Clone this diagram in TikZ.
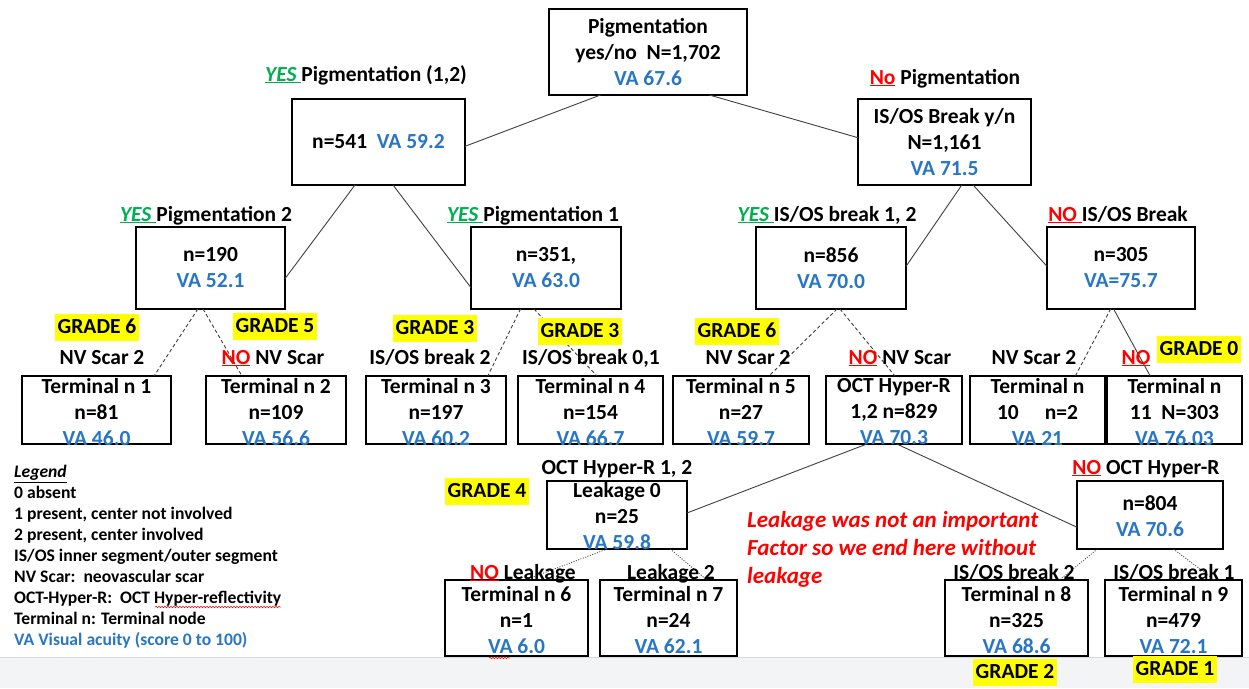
\documentclass[tikz,border=0pt]{standalone}
\usepackage{fontspec}
\setmainfont{Carlito}
\usetikzlibrary{calc,decorations.pathmorphing}
\definecolor{vablue}{RGB}{40,118,196}
\definecolor{yesgreen}{RGB}{0,176,80}
\definecolor{nored}{RGB}{255,0,0}
\definecolor{hl}{RGB}{255,255,0}
\definecolor{band}{RGB}{243,244,246}
\newcommand\va[1]{\textcolor{vablue}{#1}}
\newcommand\yesmark{\textcolor{yesgreen}{\underline{\itshape YES\ }}}
\newcommand\nomark[1]{\textcolor{nored}{\underline{#1}}}
\newcommand\mainsz{\fontsize{21.5}{26}\selectfont}
\begin{document}
\begin{tikzpicture}[x=1pt,y=-1pt,
  box/.style={draw=black, line width=2.8pt, inner sep=0pt, outer sep=0pt},
  btxt/.style={font=\bfseries\mainsz, align=center, inner sep=0pt},
  lab/.style={font=\bfseries\mainsz, inner sep=0pt, anchor=base},
  grade/.style={font=\bfseries\mainsz, fill=hl, inner xsep=3pt, inner ysep=2pt, text height=17pt, text depth=6pt, anchor=base},
  conn/.style={draw=black!75, line width=0.9pt},
  dsh/.style={conn, dash pattern=on 3.5pt off 2.5pt},
  dot/.style={conn, line width=0.8pt, dash pattern=on 1pt off 1.5pt},
  legend/.style={font=\bfseries\fontsize{17.6}{21}\selectfont, align=left, inner sep=0pt},
  note/.style={font=\bfseries\itshape\fontsize{23}{28}\selectfont, text=nored, align=left, inner sep=0pt},
  squig/.style={draw=nored, line width=0.5pt, decorate, decoration={snake, amplitude=0.8pt, segment length=3pt}}
]
\useasboundingbox (0,0) rectangle (1249,688);
\fill[white] (0,0) rectangle (1249,688);
\fill[band] (0,657) rectangle (1249,688);
\draw[black!15, line width=0.8pt] (0,657) -- (1249,657);

% ---------- boxes ----------
\node[box, minimum width=198pt, minimum height=86pt] (root) at (648,52) {};
\node[box, minimum width=173pt, minimum height=86pt] (p12) at (378.5,142) {};
\node[box, minimum width=173pt, minimum height=86pt] (isos) at (944.5,142) {};
\node[box, minimum width=149pt, minimum height=82pt] (p2) at (210.5,268) {};
\node[box, minimum width=150pt, minimum height=82pt] (p1) at (546,268) {};
\node[box, minimum width=150pt, minimum height=82pt] (b12) at (831,268) {};
\node[box, minimum width=148pt, minimum height=82pt] (b0) at (1121,268) {};
\node[box, minimum width=149pt, minimum height=68pt] (t1) at (96.5,410) {};
\node[box, minimum width=140pt, minimum height=68pt] (t2) at (276,410) {};
\node[box, minimum width=140pt, minimum height=68pt] (t3) at (436,410) {};
\node[box, minimum width=145pt, minimum height=68pt] (t4) at (590.5,410) {};
\node[box, minimum width=136pt, minimum height=68pt] (t5) at (741,410) {};
\node[box, minimum width=136pt, minimum height=68pt] (oct) at (894,410) {};
\node[box, minimum width=135pt, minimum height=68pt] (t10) at (1037.5,410) {};
\node[box, minimum width=135pt, minimum height=68pt] (t11) at (1174.5,410) {};
\node[box, minimum width=140pt, minimum height=68pt] (leak) at (617,515) {};
\node[box, minimum width=146pt, minimum height=68pt] (n804) at (1150,515) {};
\node[box, minimum width=143pt, minimum height=76pt] (t6) at (516.5,618) {};
\node[box, minimum width=137pt, minimum height=76pt] (t7) at (668.5,618) {};
\node[box, minimum width=143pt, minimum height=76pt] (t8) at (1016.5,618) {};
\node[box, minimum width=137pt, minimum height=76pt] (t9) at (1173.5,618) {};

% ---------- connectors ----------
\draw[conn] ($(root.south west)!0.26!(root.south east)$) -- ($(p12.north east)!0.55!(p12.south east)$);
\draw[conn] ($(root.south west)!0.81!(root.south east)$) -- ($(isos.north west)!0.45!(isos.south west)$);
\draw[conn] ($(p12.south west)!0.364!(p12.south east)$) -- ($(p2.north east)!0.63!(p2.south east)$);
\draw[conn] ($(p12.south west)!0.584!(p12.south east)$) -- ($(p1.north west)!0.74!(p1.south west)$);
\draw[conn] ($(isos.south west)!0.60!(isos.south east)$) -- ($(b12.north east)!0.48!(b12.south east)$);
\draw[conn] ($(isos.south west)!0.665!(isos.south east)$) -- ($(b0.north west)!0.48!(b0.south west)$);

\draw[dsh] ($(p2.south west)!0.415!(p2.south east)$) -- ($(t1.north west)!0.886!(t1.north east)$);
\draw[dsh] ($(p2.south west)!0.45!(p2.south east)$) -- ($(t2.north west)!0.257!(t2.north east)$);
\draw[dsh] ($(p1.south west)!0.33!(p1.south east)$) -- ($(t3.north west)!0.87!(t3.north east)$);
\draw[dsh] ($(p1.south west)!0.42!(p1.south east)$) -- ($(t4.north west)!0.545!(t4.north east)$);
\draw[dsh] ($(b12.south west)!0.54!(b12.south east)$) -- ($(t5.north west)!0.706!(t5.north east)$);
\draw[dsh] ($(b12.south west)!0.56!(b12.south east)$) -- ($(oct.north west)!0.507!(oct.north east)$);
\draw[dsh] ($(b0.south west)!0.43!(b0.south east)$) -- ($(t10.north west)!0.78!(t10.north east)$);
\draw[conn] ($(b0.south west)!0.45!(b0.south east)$) -- ($(t11.north west)!0.32!(t11.north east)$);

\draw[conn] ($(oct.south west)!0.30!(oct.south east)$) -- ($(leak.north east)!0.47!(leak.south east)$);
\draw[conn] ($(oct.south west)!0.52!(oct.south east)$) -- ($(n804.north west)!0.68!(n804.south west)$);

\draw[dot] ($(leak.south west)!0.43!(leak.south east)$) -- ($(t6.north west)!0.56!(t6.north east)$);
\draw[dot] ($(leak.south west)!0.88!(leak.south east)$) -- ($(t7.north west)!0.78!(t7.north east)$);
\draw[dot] ($(n804.south west)!0.14!(n804.south east)$) -- ($(t8.north west)!0.80!(t8.north east)$);
\draw[dot] ($(n804.south west)!0.66!(n804.south east)$) -- ($(t9.north west)!0.80!(t9.north east)$);

% ---------- box texts ----------
\node[btxt] (rootT) at (root.center) {Pigmentation\\yes/no\ \ N=1,702\\\va{VA 67.6}};
\node[btxt] (p12T) at (p12.center) {n=541\ \ \va{VA 59.2}};
\node[btxt] (isosT) at (isos.center) {IS/OS Break y/n\\N=1,161\\\va{VA 71.5}};
\node[btxt] (p2T) at (p2.center) {n=190\\\va{VA 52.1}};
\node[btxt] (p1T) at (p1.center) {n=351,\\\va{VA 63.0}};
\node[btxt] (b12T) at (b12.center) {n=856\\\va{VA 70.0}};
\node[btxt] (b0T) at (b0.center) {n=305\\\va{VA=75.7}};
\node[btxt] (t1T) at ([yshift=-2pt]t1.center) {Terminal n 1\\n=81\\\va{VA 46.0}};
\node[btxt] (t2T) at ([yshift=-2pt]t2.center) {Terminal n 2\\n=109\\\va{VA 56.6}};
\node[btxt] (t3T) at ([yshift=-2pt]t3.center) {Terminal n 3\\n=197\\\va{VA 60.2}};
\node[btxt] (t4T) at ([yshift=-2pt]t4.center) {Terminal n 4\\n=154\\\va{VA 66.7}};
\node[btxt] (t5T) at ([yshift=-2pt]t5.center) {Terminal n 5\\n=27\\\va{VA 59.7}};
\node[btxt] (octT) at ([yshift=-2pt]oct.center) {OCT Hyper-R\\1,2 n=829\\\va{VA 70.3}};
\node[btxt] (t10T) at ([yshift=-2pt]t10.center) {Terminal n\\10\hspace{26pt}n=2\\\va{VA 21}};
\node[btxt] (t11T) at ([yshift=-2pt]t11.center) {Terminal n\\11\ \ N=303\\\va{VA 76.03}};
\node[btxt] (leakT) at ([yshift=-1pt]leak.center) {Leakage 0\\n=25\\\va{VA 59.8}};
\node[btxt] (n804T) at ([yshift=-1pt]n804.center) {n=804\\\va{VA 70.6}};
\node[btxt] (t6T) at ([yshift=-2pt]t6.center) {Terminal n 6\\n=1\\\va{VA 6.0}};
\node[btxt] (t7T) at ([yshift=-2pt]t7.center) {Terminal n 7\\n=24\\\va{VA 62.1}};
\node[btxt] (t8T) at ([yshift=-2pt]t8.center) {Terminal n 8\\n=325\\\va{VA 68.6}};
\node[btxt] (t9T) at ([yshift=-2pt]t9.center) {Terminal n 9\\n=479\\\va{VA 72.1}};

% ---------- branch labels ----------
\node[lab] (l1) at (366,81) {\yesmark Pigmentation (1,2)};
\node[lab] (l2) at (945,84) {\nomark{No} Pigmentation};
\node[lab] (l3) at (206,221) {\yesmark Pigmentation 2};
\node[lab] (l4) at (533,221) {\yesmark Pigmentation 1};
\node[lab] (l5) at (827,221) {\yesmark IS/OS break 1, 2};
\node[lab] (l6) at (1118,221) {\nomark{NO\ }IS/OS Break};
\node[lab] (l7) at (102,364) {NV Scar 2};
\node[lab] (l8) at (273,364) {\nomark{NO} NV Scar};
\node[lab] (l9) at (430,364) {IS/OS break 2};
\node[lab] (l10) at (591,364) {IS/OS break 0,1};
\node[lab] (l11) at (748,364) {NV Scar 2};
\node[lab] (l12) at (900,364) {\nomark{NO} NV Scar};
\node[lab] (l13) at (1034,364) {NV Scar 2};
\node[lab] (l14) at (1136,364) {\nomark{NO}};
\node[lab] (l15) at (617,474) {OCT Hyper-R 1, 2};
\node[lab] (l16) at (1146,474) {\nomark{NO} OCT Hyper-R};
\node[lab] (l17) at (523,579) {\nomark{NO} Leakage};
\node[lab] (l18) at (671,579) {Leakage 2};
\node[lab] (l19) at (1014,579) {IS/OS break 2};
\node[lab] (l20) at (1174,579) {IS/OS break 1};

% ---------- grades ----------
\node[grade] (g1) at (97,333) {GRADE 6};
\node[grade] (g2) at (275,332) {GRADE 5};
\node[grade] (g3) at (435,334) {GRADE 3};
\node[grade] (g4) at (580,337) {GRADE 3};
\node[grade] (g5) at (737,337) {GRADE 6};
\node[grade] (g6) at (1199,355) {GRADE 0};
\node[grade] (g7) at (487,497) {GRADE 4};
\node[grade] (g8) at (1015,678) {GRADE 2};
\node[grade] (g9) at (1175,675) {GRADE 1};

% ---------- legend and note ----------
\node[legend, anchor=north west] (leg) at (14,465) {\underline{\itshape Legend}\\0 absent\\1 present, center not involved\\2 present, center involved\\IS/OS inner segment/outer segment\\NV Scar:\ \ neovascular scar\\OCT-Hyper-R:\ \ OCT Hyper-reflectivity\\Terminal n: Terminal node\\\va{VA Visual acuity (score 0 to 100)}};
\node[note, anchor=north west] (note) at (747,511) {Leakage was not an important\\Factor so we end here without\\leakage};
\draw[squig] (155,607) -- (281,607);
\draw[squig] (489,658) -- (510,658);
\end{tikzpicture}
\end{document}
